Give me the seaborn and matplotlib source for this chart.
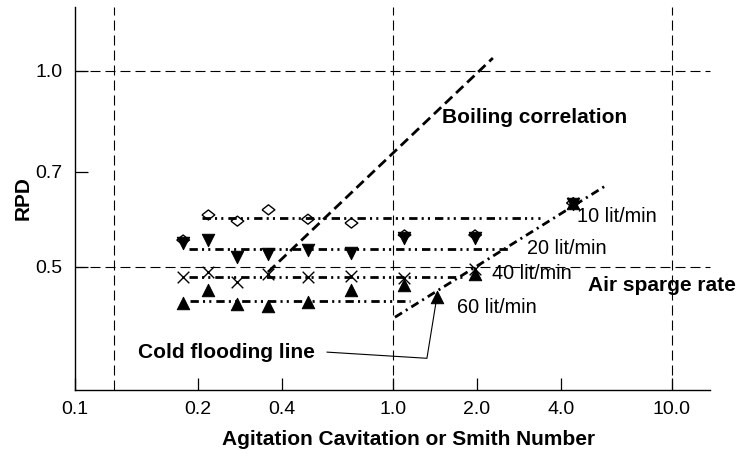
import numpy as np
import pandas as pd
import matplotlib
matplotlib.use("Agg")
import matplotlib.pyplot as plt
import seaborn as sns

# ---------------- data ----------------
smith_x = [0.177, 0.218, 0.277, 0.358, 0.496, 0.71, 1.10, 1.97, 4.42]
rpd_10 = [0.550, 0.601, 0.588, 0.612, 0.592, 0.584, 0.560, 0.560, 0.627]
rpd_20 = [0.544, 0.550, 0.518, 0.524, 0.531, 0.525, 0.554, 0.554, 0.625]
rpd_40 = [0.483, 0.491, 0.474, 0.488, 0.483, 0.485, 0.481, 0.496, 0.627]
smith_x_60 = [0.177, 0.218, 0.277, 0.358, 0.496, 0.71, 1.10, 1.44, 1.97, 4.42]
rpd_60 = [0.440, 0.461, 0.438, 0.436, 0.442, 0.461, 0.469, 0.450, 0.487, 0.627]

rate_labels = ["10 lit/min", "20 lit/min", "40 lit/min", "60 lit/min"]
rate_fit_rpd = [0.594, 0.533, 0.483, 0.443]
rate_fit_start = [0.207, 0.186, 0.186, 0.187]
rate_fit_end = [3.36, 2.63, 1.81, 1.15]
rate_label_x = [4.56, 3.02, 2.26, 1.70]
rate_label_y = [0.597, 0.533, 0.489, 0.434]

boiling_x = [0.3565, 2.282]
boiling_y = [0.491, 1.047]
cold_x = [1.017, 5.84]
cold_y = [0.4186, 0.668]
cold_pointer_x = [0.580, 1.324, 1.438]
cold_pointer_y = [0.370, 0.362, 0.450]

ref_x = [0.1, 1.0, 10.0]
ref_y = [0.5, 1.0]

X_MIN, X_MAX = 0.0725, 13.7
Y_MIN, Y_MAX = 0.3236, 1.254
x_ticks = [0.2, 0.4, 1.0, 2.0, 4.0, 10.0]
x_tick_labels = ["0.1", "0.2", "0.4", "1.0", "2.0", "4.0", "10.0"]
y_ticks = [0.5, 0.7, 1.0]
y_tick_labels = ["0.5", "0.7", "1.0"]

# ---------------- style ----------------
sns.set_theme(style="ticks")
plt.rcParams["font.family"] = ["Liberation Sans", "DejaVu Sans"]
plt.rcParams["text.color"] = "black"
plt.rcParams["axes.labelcolor"] = "black"

fig = plt.figure(figsize=(7.38, 4.54), dpi=100)
ax = fig.add_axes([75 / 738, 1 - 390 / 454, 635 / 738, 383 / 454])
ax.set_xscale("log")
ax.set_yscale("log")
ax.set_xlim(X_MIN, X_MAX)
ax.set_ylim(Y_MIN, Y_MAX)

grid_ls = (0, (9, 4.5))
for xv in ref_x:
    ax.axvline(xv, color="black", lw=0.8, ls=grid_ls, zorder=1)
for yv in ref_y:
    ax.axhline(yv, color="black", lw=0.8, ls=grid_ls, zorder=1, clip_on=False)

# air-sparge-rate fit lines (dash-dot-dot)
ddot = (0, (3.0, 1.5, 0.75, 1.5, 0.75, 1.8))
for xs, xe, yv in zip(rate_fit_start, rate_fit_end, rate_fit_rpd):
    sns.lineplot(x=[xs, xe], y=[yv, yv], ax=ax, color="black", lw=2.0,
                 linestyle=ddot, zorder=2)

# boiling correlation (dashed)
sns.lineplot(x=boiling_x, y=boiling_y, ax=ax, color="black", lw=2.0,
             linestyle=(0, (3.6, 1.9)), zorder=2)
# cold flooding line (dash-dot)
sns.lineplot(x=cold_x, y=cold_y, ax=ax, color="black", lw=2.0,
             linestyle=(0, (3.0, 1.6, 0.75, 1.6)), zorder=2)

# markers
diamond = [(-1, 0), (0, 0.78), (1, 0), (0, -0.78), (-1, 0)]
sns.scatterplot(x=smith_x, y=rpd_20, ax=ax, marker="v",
                s=80, color="black", edgecolor="black", zorder=3)
sns.scatterplot(x=smith_x_60, y=rpd_60, ax=ax, marker="^", s=80,
                color="black", edgecolor="black", zorder=3)
sns.scatterplot(x=smith_x, y=rpd_40, ax=ax, marker="x", s=70,
                color="black", linewidth=1.0, zorder=4)
sns.scatterplot(x=smith_x, y=rpd_10, ax=ax, marker=diamond, s=85,
                facecolor="none", edgecolor="black", linewidth=1.0, zorder=4)

# cold flooding pointer
ax.plot(cold_pointer_x, cold_pointer_y, color="black", lw=0.8, zorder=2)

# texts
for lab, lx, ly in zip(rate_labels, rate_label_x, rate_label_y):
    ax.text(lx, ly, lab, fontsize=14.3, ha="left", va="center", zorder=5,
            color="black")
ax.text(1.498, 0.847, "Boiling correlation", fontsize=15, fontweight="bold",
        ha="left", va="center", color="black")
ax.text(5.0, 0.469, "Air sparge rate", fontsize=15, fontweight="bold",
        ha="left", va="center", clip_on=False, color="black")
ax.text(0.122, 0.370, "Cold flooding line", fontsize=15, fontweight="bold",
        ha="left", va="center", color="black")

# axes
ax.set_xticks([X_MIN] + x_ticks)
ax.set_xticklabels(x_tick_labels)
ax.set_yticks(y_ticks)
ax.set_yticklabels(y_tick_labels)
ax.xaxis.set_minor_locator(matplotlib.ticker.NullLocator())
ax.yaxis.set_minor_locator(matplotlib.ticker.NullLocator())
ax.tick_params(axis="both", direction="in", length=9, width=0.9,
               labelsize=14, colors="black")
ax.tick_params(axis="x", pad=8)
ax.tick_params(axis="y", pad=9)
sns.despine(ax=ax)
for sp in ("left", "bottom"):
    ax.spines[sp].set_linewidth(1.0)
    ax.spines[sp].set_color("black")

ax.set_xlabel("Agitation Cavitation or Smith Number", fontsize=15,
              fontweight="bold", color="black")
ax.xaxis.set_label_coords((409 - 75) / 635, -0.105)
ax.set_ylabel("RPD", fontsize=15, fontweight="bold", color="black")
ax.yaxis.set_label_coords(-0.066, 0.5)
ax.set_facecolor("white")
fig.patch.set_facecolor("white")

fig.savefig("out.png", dpi=100)
